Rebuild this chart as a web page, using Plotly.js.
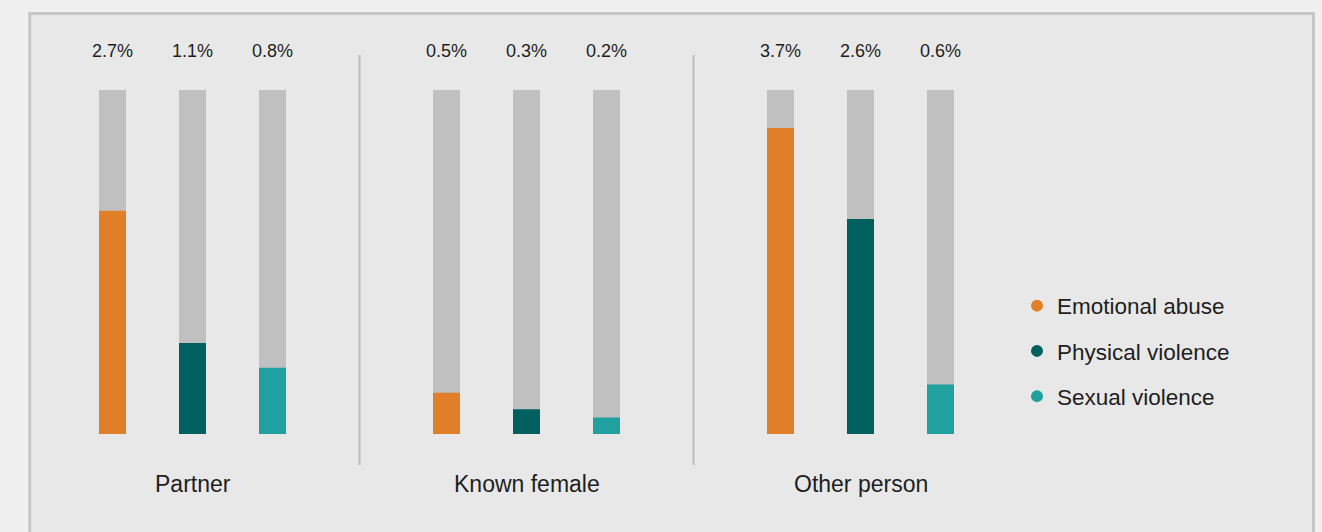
<!DOCTYPE html>
<html>
<head>
<meta charset="utf-8">
<script src="https://cdn.plot.ly/plotly-3.0.1.min.js"></script>
<style>
  html, body { margin: 0; padding: 0; background: #f0f0f0; }
  #chart { width: 1322px; height: 532px; }
</style>
</head>
<body>
<div id="chart"></div>
<script>
// Perpetrator groups and abuse types
const groups = ['Partner', 'Known female', 'Other person'];
const seriesNames = ['Emotional abuse', 'Physical violence', 'Sexual violence'];
const seriesColors = ['#e07f28', '#006060', '#21a0a0'];

// Prevalence (%) per group, ordered as seriesNames
const partnerValues = [2.7, 1.1, 0.8];
const knownFemaleValues = [0.5, 0.3, 0.2];
const otherPersonValues = [3.7, 2.6, 0.6];
const groupValues = [partnerValues, knownFemaleValues, otherPersonValues];

// Height of the grey background track (% scale)
const trackMax = 4.16;

const W = 1322, H = 532;
const FONT = '"Liberation Sans", Arial, sans-serif';
const TEXT = '#1e1e1e';

// horizontal extent of each group panel, in pixels
const groupLeft = [72.5, 406.5, 740.5];
const groupWidth = 240;
const plotBottom = 434, plotTop = 90;

const traces = [];
const annotations = [];
const shapes = [];
const layout = {
  width: W, height: H,
  margin: {l: 0, r: 0, t: 0, b: 0},
  paper_bgcolor: '#f0f0f0',
  plot_bgcolor: 'rgba(0,0,0,0)',
  barmode: 'overlay',
  bargap: 0.6625,
  showlegend: true,
  font: {family: FONT, color: TEXT},
  legend: {
    x: 1017 / W, xanchor: 'left',
    y: 1 - 351 / H, yanchor: 'middle',
    bgcolor: 'rgba(0,0,0,0)',
    font: {family: FONT, size: 22.5, color: TEXT},
    itemsizing: 'constant',
    tracegroupgap: 13,
    traceorder: 'grouped'
  }
};

// outer panel
shapes.push({
  type: 'rect', xref: 'paper', yref: 'paper', layer: 'below',
  x0: 29.75 / W, x1: 1313.5 / W, y0: -0.1, y1: 1 - 13.5 / H,
  fillcolor: '#e8e8e8', line: {color: '#c5c7c6', width: 3}
});

groups.forEach((g, gi) => {
  const xa = gi === 0 ? 'x' : 'x' + (gi + 1);
  const ya = gi === 0 ? 'y' : 'y' + (gi + 1);
  const xKey = gi === 0 ? 'xaxis' : 'xaxis' + (gi + 1);
  const yKey = gi === 0 ? 'yaxis' : 'yaxis' + (gi + 1);
  const vals = groupValues[gi];

  layout[xKey] = {
    domain: [groupLeft[gi] / W, (groupLeft[gi] + groupWidth) / W],
    type: 'category', categoryorder: 'array', categoryarray: seriesNames,
    showticklabels: false, showgrid: false, zeroline: false, showline: false,
    ticks: '', anchor: ya, fixedrange: true
  };
  layout[yKey] = {
    domain: [(H - plotBottom) / H, (H - plotTop) / H],
    range: [0, trackMax], showticklabels: false, showgrid: false,
    zeroline: false, showline: false, ticks: '', anchor: xa, fixedrange: true
  };

  // grey background track
  traces.push({
    type: 'bar', x: seriesNames, y: seriesNames.map(() => trackMax),
    xaxis: xa, yaxis: ya, marker: {color: '#bfc0bf', line: {width: 0}},
    showlegend: false, hoverinfo: 'skip'
  });
  // value bars
  traces.push({
    type: 'bar', x: seriesNames, y: vals,
    xaxis: xa, yaxis: ya, marker: {color: seriesColors, line: {width: 0}},
    showlegend: false
  });

  // value labels above each track
  seriesNames.forEach((s, si) => {
    annotations.push({
      xref: xa, yref: ya, x: s, y: trackMax,
      text: vals[si].toFixed(1) + '%', showarrow: false,
      yanchor: 'middle', yshift: 39,
      font: {family: FONT, size: 18, color: TEXT}
    });
  });

  // group label under the bars
  annotations.push({
    xref: xa + ' domain', yref: 'paper', x: 0.5, y: 1 - 484 / H,
    text: g, showarrow: false, yanchor: 'middle',
    font: {family: FONT, size: 23, color: TEXT}
  });

  // vertical divider between groups
  if (gi > 0) {
    const xm = (groupLeft[gi - 1] + groupWidth + groupLeft[gi]) / 2 / W;
    shapes.push({
      type: 'line', xref: 'paper', yref: 'paper',
      x0: xm, x1: xm, y0: 1 - 465 / H, y1: 1 - 55 / H,
      line: {color: '#bdbdbd', width: 2}
    });
  }
});

// legend entries with round markers
seriesNames.forEach((s, si) => {
  traces.push({
    type: 'scatter', mode: 'markers', x: [null], y: [null],
    name: s, legendgroup: s, showlegend: true,
    marker: {symbol: 'circle', size: 13, color: seriesColors[si]},
    hoverinfo: 'skip'
  });
});

layout.shapes = shapes;
layout.annotations = annotations;

Plotly.newPlot('chart', traces, layout, {displayModeBar: false, staticPlot: true});
</script>
</body>
</html>
